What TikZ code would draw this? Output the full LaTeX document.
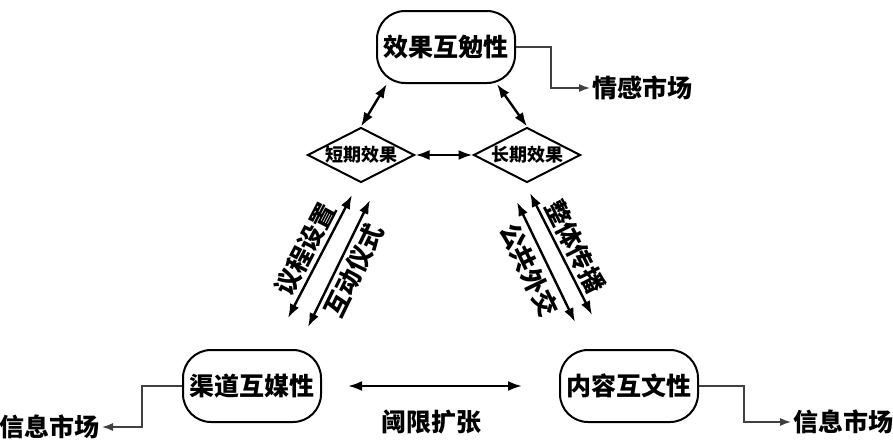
\documentclass[tikz,border=0pt]{standalone}
\usepackage{fontspec}
\newfontfamily\cjk{Noto Sans CJK SC}
\usetikzlibrary{shapes.geometric,arrows.meta}
\begin{document}
\begin{tikzpicture}[x=1pt, y=-1pt, font=\cjk\bfseries,
    inter/.style={draw, line width=2pt, rounded corners=28pt, minimum width=138pt, minimum height=72pt, inner sep=0pt, font=\cjk\bfseries\fontsize{25}{25}\selectfont},
    effect/.style={draw, diamond, line width=2pt, aspect=2, minimum width=107pt, minimum height=55pt, inner sep=0pt, font=\cjk\bfseries\fontsize{18}{18}\selectfont},
    market/.style={inner sep=2pt, font=\cjk\bfseries\fontsize{25}{25}\selectfont},
    lbl/.style={inner sep=3pt, font=\cjk\bfseries\fontsize{25}{25}\selectfont},
    link/.style={line width=2.4pt, {Latex[length=14pt,width=10pt]}-{Latex[length=14pt,width=10pt]}},
    feed/.style={line width=1.4pt, draw=black!75, -{Latex[length=11pt,width=8pt]}}]
      \useasboundingbox (0,0) rectangle (893,447);
      \node[inter] (mutual) at (446,47){效果互勉性};
      \node[effect] (short) at (361,155){短期效果};
      \node[effect] (long) at (527,155){长期效果};
      \node[inter] (channel) at (252,386){渠道互媒性};
      \node[inter] (content) at (629,386){内容互文性};
      \node[market, anchor=west] (emotion) at (590,88){情感市场};
      \node[market, anchor=east] (infoL) at (102,427){信息市场};
      \node[market, anchor=west] (infoR) at (791,422){信息市场};
      \node[lbl] (limen) at (431,422){阈限扩张};
      \coordinate (agendaT) at (352,195);
      \coordinate (agendaB) at (288,318);
      \coordinate (ritualT) at (370,200);
      \coordinate (ritualB) at (308,327);
      \coordinate (publicT) at (517,202);
      \coordinate (publicB) at (575,322);
      \coordinate (wholeT) at (530,193);
      \coordinate (wholeB) at (592,315);
      \draw[link](mutual.212.7) -- (short.north);
      \draw[link](mutual.324.8) -- (long.north);
      \draw[link](short) -- (long);
      \draw[link](agendaB) -- node[lbl, sloped, above]{议程设置} (agendaT);
      \draw[link](ritualB) -- node[lbl, sloped, below]{互动仪式} (ritualT);
      \draw[link](publicT) -- node[lbl, sloped, below, inner sep=5pt]{公共外交} (publicB);
      \draw[link](wholeT) -- node[lbl, sloped, above]{整体传播} (wholeB);
      \draw[link, shorten <=26pt, shorten >=37pt](channel) -- (content);
      \draw[feed](mutual.east) -- ++(35,0) |- (emotion.west);
      \draw[feed](channel.west) -- ++(-40,0) |- (infoL.east);
      \draw[feed](content.east) -- ++(45,0) |- (infoR.west);
    \end{tikzpicture}
\end{document}
